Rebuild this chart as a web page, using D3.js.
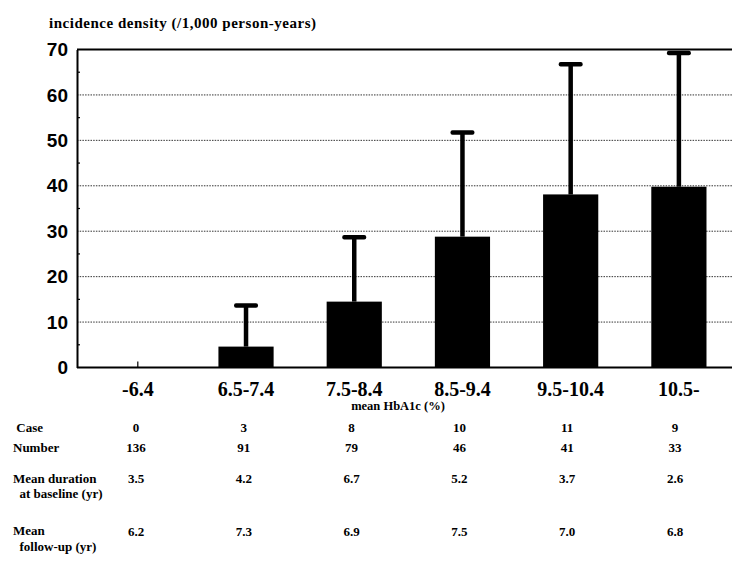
<!DOCTYPE html>
<html><head><meta charset="utf-8">
<script src="https://cdn.jsdelivr.net/npm/d3@7"></script>
<style>body{margin:0;background:#fff}svg{display:block}</style>
</head><body>
<script>
const categories = ["-6.4","6.5-7.4","7.5-8.4","8.5-9.4","9.5-10.4","10.5-"];
const incidence = [0, 4.6, 14.5, 28.8, 38.1, 39.8];
const errorUpper = [null, 13.7, 28.7, 51.8, 66.8, 69.3];
const yTicks = [0,10,20,30,40,50,60,70];
const cases = ["0","3","8","10","11","9"];
const numbers = ["136","91","79","46","41","33"];
const meanDuration = ["3.5","4.2","6.7","5.2","3.7","2.6"];
const meanFollowUp = ["6.2","7.3","6.9","7.5","7.0","6.8"];

const W = 732, H = 565;
const svg = d3.select("body").append("svg").attr("width", W).attr("height", H);
const serif = "'Liberation Serif','Times New Roman',serif";
const sans = "'Liberation Sans',Arial,sans-serif";

const x = d3.scaleBand().domain(categories).range([83.7, 733]).paddingInner(0.49).paddingOuter(0.245);
const y = d3.scaleLinear().domain([0, 70]).range([367.5, 49.5]);
const left = 77, right = 732;

// gridlines
svg.append("g").selectAll("line").data(yTicks.filter(d => d > 0 && d < 70)).join("line")
  .attr("x1", left).attr("x2", right).attr("y1", d => y(d)).attr("y2", d => y(d))
  .attr("stroke", "#333").attr("stroke-width", 1).attr("stroke-dasharray", "1.5,1.2");

// top border
svg.append("line").attr("x1", left).attr("x2", right).attr("y1", y(70)).attr("y2", y(70))
  .attr("stroke", "#000").attr("stroke-width", 2);

// bars
svg.append("g").selectAll("rect").data(categories.map((c, i) => ({c, v: incidence[i]})).filter(d => d.v > 0)).join("rect")
  .attr("x", d => x(d.c)).attr("width", x.bandwidth())
  .attr("y", d => y(d.v)).attr("height", d => y(0) - y(d.v)).attr("fill", "#000");

// error bars
const eb = categories.map((c, i) => ({c, v: incidence[i], e: errorUpper[i]})).filter(d => d.e != null);
const eg = svg.append("g");
eg.selectAll("line").data(eb).join("line")
  .attr("x1", d => x(d.c) + x.bandwidth() / 2).attr("x2", d => x(d.c) + x.bandwidth() / 2)
  .attr("y1", d => y(d.v)).attr("y2", d => y(d.e))
  .attr("stroke", "#000").attr("stroke-width", 4.5);
eg.selectAll("rect").data(eb).join("rect")
  .attr("x", d => x(d.c) + x.bandwidth() / 2 - 12).attr("width", 24)
  .attr("y", d => y(d.e) - 2).attr("height", 4.5).attr("rx", 2).attr("fill", "#000");

// y axis
const yAxis = svg.append("g").attr("transform", `translate(${left},0)`)
  .call(d3.axisLeft(y).tickValues(yTicks).tickSize(0).tickPadding(9));
yAxis.select(".domain").attr("stroke", "#000").attr("stroke-width", 2);
yAxis.selectAll("text").attr("font-family", sans).attr("font-size", 19).attr("font-weight", "bold").attr("fill", "#000");
// minor ticks inside
svg.append("g").selectAll("line").data(d3.range(5, 70, 10)).join("line")
  .attr("x1", left).attr("x2", left + 3).attr("y1", d => y(d)).attr("y2", d => y(d))
  .attr("stroke", "#000").attr("stroke-width", 1.2);

// x axis
const xAxis = svg.append("g").attr("transform", `translate(0,${y(0)})`)
  .call(d3.axisBottom(x).tickSize(-6).tickPadding(14).tickSizeOuter(0));
xAxis.select(".domain").attr("d", `M${left},0H${right}`).attr("stroke", "#000").attr("stroke-width", 2);
xAxis.selectAll(".tick line").attr("stroke", "#000").attr("stroke-width", 1.2);
xAxis.selectAll("text").attr("font-family", serif).attr("font-size", 20).attr("font-weight", "bold").attr("fill", "#000");

// titles
svg.append("text").attr("x", 49).attr("y", 28).text("incidence density (/1,000 person-years)")
  .attr("font-family", serif).attr("font-size", 15).attr("font-weight", "bold").attr("textLength", 267);
svg.append("text").attr("x", 398).attr("y", 410).attr("text-anchor", "middle").text("mean HbA1c (%)")
  .attr("font-family", serif).attr("font-size", 12.5).attr("font-weight", "bold");

// table
const tx = d3.scalePoint().domain(categories).range([136, 675]);
const rows = [
  {labels: [" Case"], vals: cases, y: 432},
  {labels: ["Number"], vals: numbers, y: 452},
  {labels: ["Mean duration", "  at baseline (yr)"], vals: meanDuration, y: 483},
  {labels: ["Mean", "  follow-up (yr)"], vals: meanFollowUp, y: 536}
];
const tg = svg.append("g").attr("font-family", serif).attr("font-size", 13).attr("font-weight", "bold");
rows.forEach(r => {
  r.labels.forEach((l, j) => {
    tg.append("text").attr("x", 13).attr("y", r.y + j * 15 - (j === 0 && r.vals === meanFollowUp ? 1 : 0))
      .attr("xml:space", "preserve").style("white-space", "pre").text(l);
  });
  tg.append("g").selectAll("text").data(r.vals).join("text")
    .attr("x", (d, i) => tx(categories[i])).attr("y", r.y).attr("text-anchor", "middle").text(d => d);
});
</script>
</body></html>
